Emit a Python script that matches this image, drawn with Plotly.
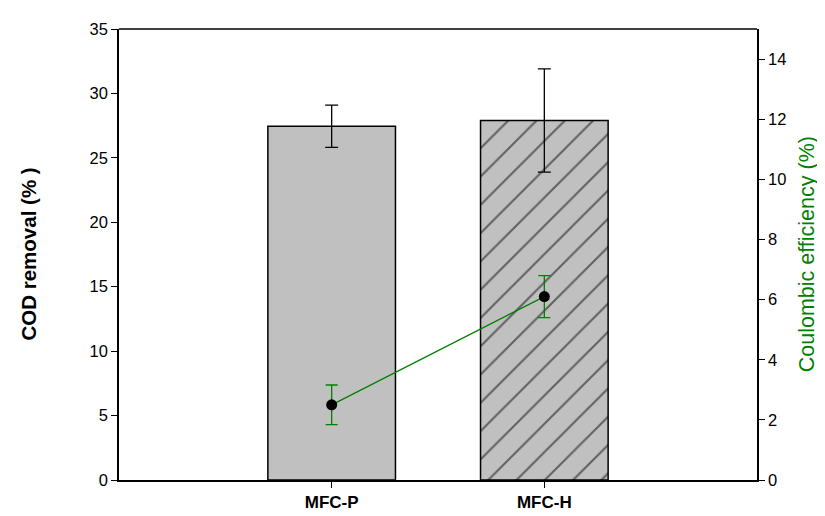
import plotly.graph_objects as go

categories = ["MFC-P", "MFC-H"]
cod_removal = [27.45, 27.9]
cod_err = [1.64, 4.0]
ce_values = [2.5, 6.1]
ce_err = [0.66, 0.70]
left_ticks = [0, 5, 10, 15, 20, 25, 30, 35]
right_ticks = [0, 2, 4, 6, 8, 10, 12, 14]

xpos = [1, 2]
FONT = "Arial, Liberation Sans, sans-serif"

fig = go.Figure()

fig.add_trace(go.Bar(
    x=xpos, y=cod_removal, width=0.6,
    marker=dict(
        color="#c0c0c0",
        line=dict(color="black", width=1.5),
        pattern=dict(shape=["", "/"], fgcolor="black", bgcolor="#c0c0c0", size=20, solidity=0.1),
    ),
    error_y=dict(type="data", array=cod_err, color="black", thickness=1.3, width=6.5),
    showlegend=False,
))

fig.add_trace(go.Scatter(
    x=xpos, y=ce_values, yaxis="y2", mode="lines+markers",
    line=dict(color="#008000", width=1.3),
    marker=dict(color="black", size=11),
    error_y=dict(type="data", array=ce_err, color="#008000", thickness=1.3, width=6),
    showlegend=False,
))

fig.update_layout(
    width=825, height=516,
    margin=dict(l=111, r=76, t=20, b=36),
    paper_bgcolor="white", plot_bgcolor="white",
    font=dict(family=FONT, color="black", size=16),
    xaxis=dict(
        range=[0, 3], tickvals=xpos, ticktext=categories,
        tickfont=dict(size=17, weight="bold"),
        ticks="outside", ticklen=6, tickcolor="black", tickwidth=1.3,
        showline=True, linecolor="black", linewidth=1.5,
        showgrid=False, zeroline=False, mirror=False,
    ),
    yaxis=dict(
        range=[0, 35], tickvals=left_ticks,
        ticks="outside", ticklen=6, tickcolor="black", tickwidth=1.3,
        showline=True, linecolor="black", linewidth=1.5,
        showgrid=False, zeroline=False,
        tickfont=dict(size=16.5),
    ),
    yaxis2=dict(
        range=[0, 15], tickvals=right_ticks, overlaying="y", side="right",
        ticks="outside", ticklen=6, tickcolor="black", tickwidth=1.3,
        showline=True, linecolor="black", linewidth=1.5,
        showgrid=False, zeroline=False,
        tickfont=dict(size=16.5),
    ),
    shapes=[dict(type="line", xref="paper", yref="paper", x0=0, x1=1, y0=1, y1=1,
                 line=dict(color="black", width=1.5))],
    annotations=[
        dict(text="<b>COD removal (% )</b>", xref="paper", yref="paper", x=-0.1426, y=0.5,
             textangle=-90, showarrow=False, xanchor="center", yanchor="middle",
             font=dict(size=20.5, color="black")),
        dict(text="Coulombic efficiency (%)", xref="paper", yref="paper", x=1.078, y=0.5,
             textangle=-90, showarrow=False, xanchor="center", yanchor="middle",
             font=dict(size=21.5, color="#008000")),
    ],
)

fig.write_html("out.html")
